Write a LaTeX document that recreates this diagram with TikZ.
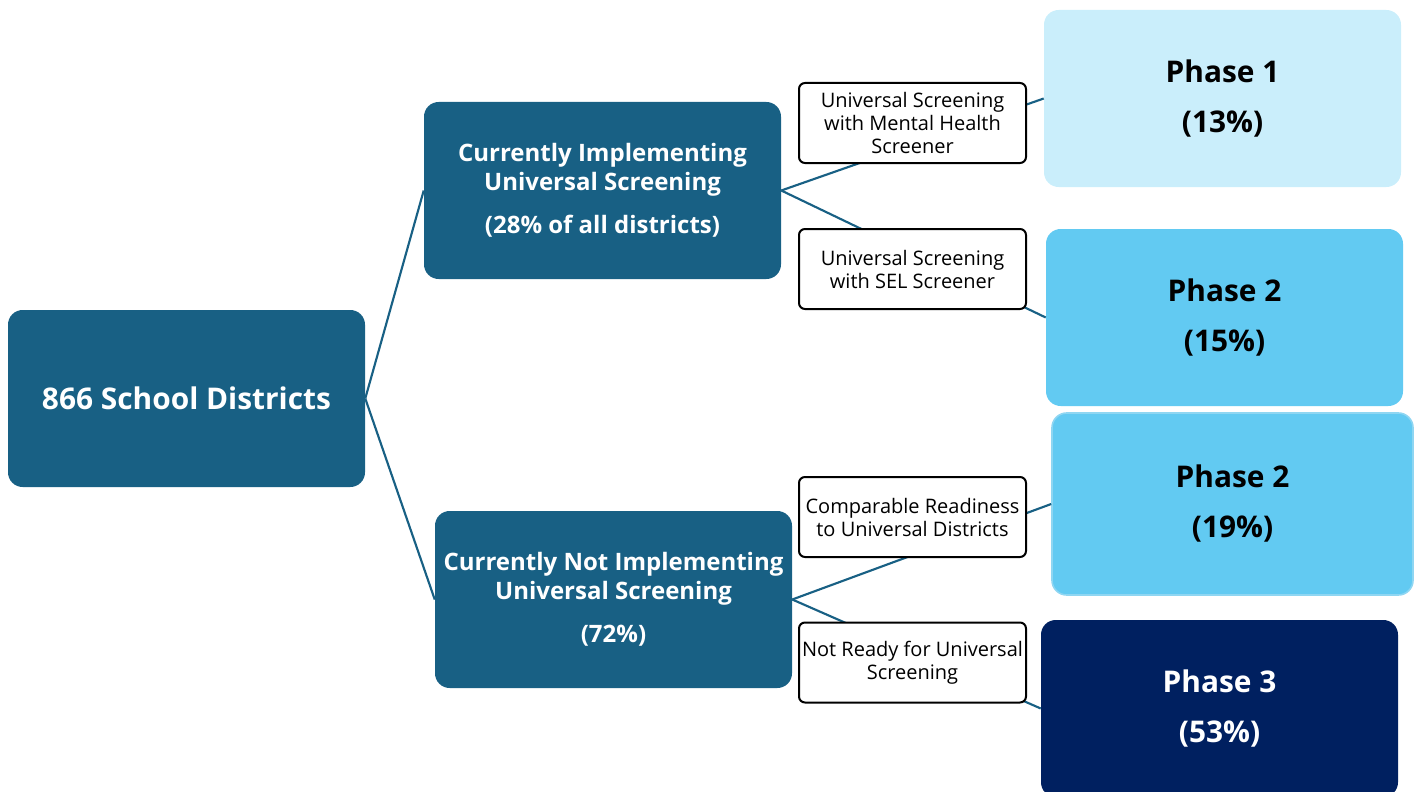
\documentclass[tikz,border=0pt]{standalone}
\usepackage{fontspec}
\setmainfont{Open Sans}
\begin{document}
\begin{tikzpicture}[x=0.75pt,y=-0.75pt,
  every node/.style={inner sep=0pt, align=center},
  tealbox/.style={fill=teal1, rounded corners=11pt, text=white, font=\bfseries\fontsize{18}{21.5}\selectfont,
    minimum width=267.75pt, minimum height=132.75pt},
  phasebox/.style={rounded corners=11pt, font=\bfseries\fontsize{22.4}{26}\selectfont,
    minimum width=267.75pt, minimum height=132.75pt},
  tag/.style={draw=black, line width=1.5pt, fill=white, rounded corners=4.5pt,
    minimum width=170.25pt, minimum height=60pt, font=\fontsize{15}{17.25}\selectfont},
  link/.style={draw=teal1, line width=1.6pt}]
\definecolor{teal1}{HTML}{186084}
\definecolor{phaseA}{HTML}{CAEEFB}
\definecolor{phaseB}{HTML}{62CAF2}
\definecolor{phaseBedge}{HTML}{8FD6F2}
\definecolor{phaseC}{HTML}{002060}
\useasboundingbox (0,0) rectangle (1414,792);

% left-hand tree
\node[tealbox, font=\bfseries\fontsize{22.4}{26}\selectfont] (root) at (186.5,398.5) {866 School Districts};
\node[tealbox] (impl) at (602.5,190.5) {Currently Implementing\\Universal Screening\\[11pt](28\% of all districts)};
\node[tealbox] (notimpl) at (613.5,599.5) {Currently Not Implementing\\Universal Screening\\[11pt](72\%)};

% phase outcomes
\node[phasebox, fill=phaseA] (p1) at (1222.5,98.5) {Phase 1\\[11.5pt](13\%)};
\node[phasebox, fill=phaseB] (p2) at (1224.5,317.5) {Phase 2\\[11.5pt](15\%)};
\node[phasebox, fill=phaseB, draw=phaseBedge, line width=1.2pt, minimum width=270.75pt, minimum height=136.5pt] (p2b) at (1232.5,504) {Phase 2\\[11.5pt](19\%)};
\node[phasebox, fill=phaseC, text=white] (p3) at (1219.5,708.5) {Phase 3\\[11.5pt](53\%)};

% connectors
\draw[link] (root.east) -- (impl.west);
\draw[link] (root.east) -- (notimpl.west);
\draw[link] (impl.east) -- (p1.west);
\draw[link] (impl.east) -- (p2.west);
\draw[link] (notimpl.east) -- (p2b.west);
\draw[link] (notimpl.east) -- (p3.west);

% branch labels drawn over the connectors
\node[tag] (t1) at (912.5,123) {Universal Screening\\with Mental Health\\Screener};
\node[tag] (t2) at (912.5,269) {Universal Screening\\with SEL Screener};
\node[tag] (t3) at (912.5,517) {Comparable Readiness\\to Universal Districts};
\node[tag] (t4) at (912.5,662.5) {Not Ready for Universal\\Screening};
\end{tikzpicture}
\end{document}
